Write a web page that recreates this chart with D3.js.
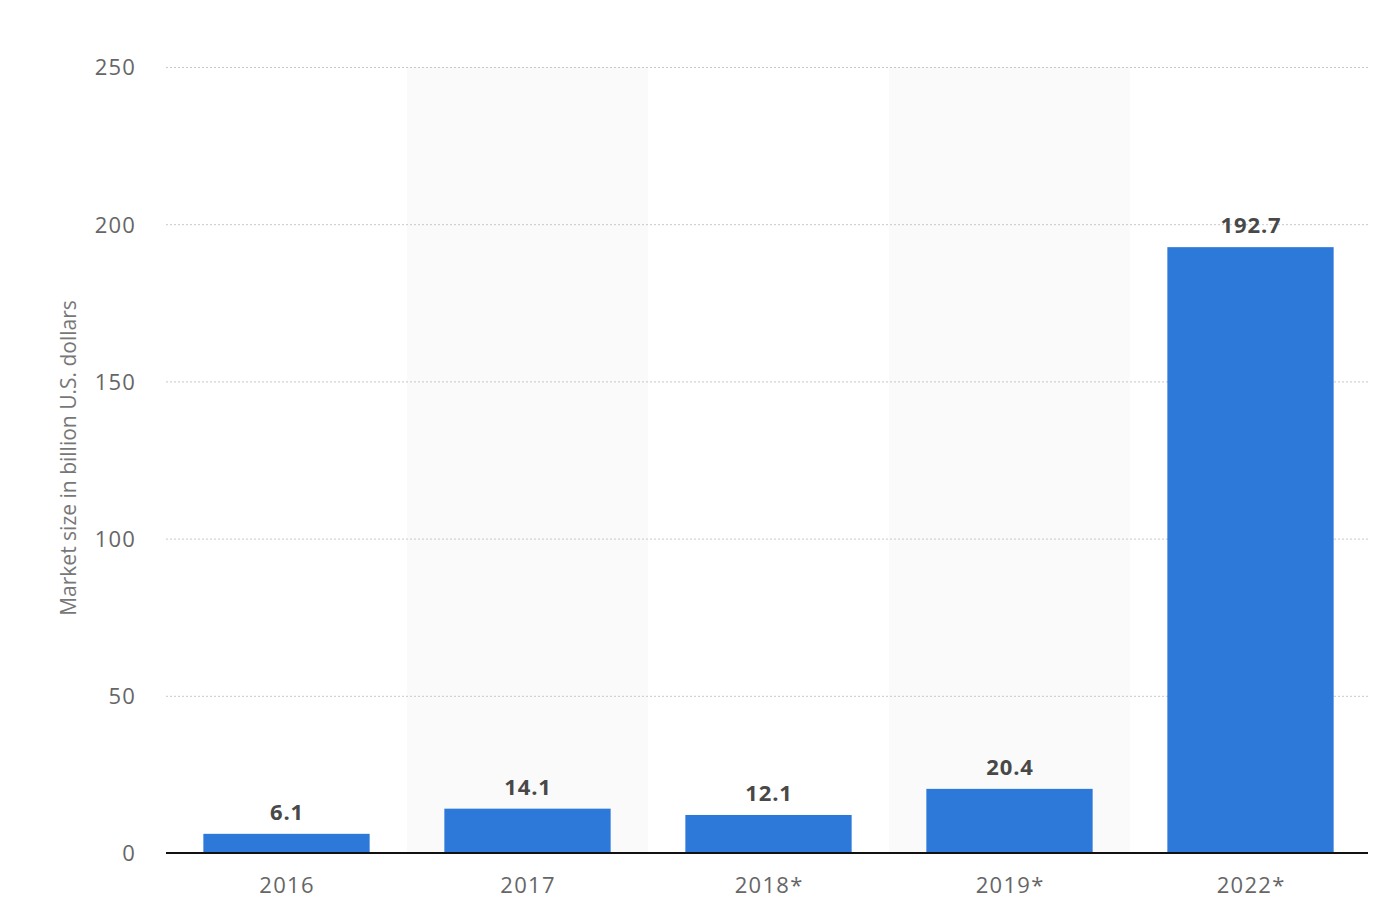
<!DOCTYPE html>
<html><head><meta charset="utf-8">
<script src="https://cdn.jsdelivr.net/npm/d3@7"></script>
<style>body{margin:0;background:#fff}svg{display:block}</style>
</head><body>
<svg id="c" width="1380" height="914"></svg>
<script>
const categories = ["2016", "2017", "2018*", "2019*", "2022*"];
const values = [6.1, 14.1, 12.1, 20.4, 192.7];
const yTicks = [0, 50, 100, 150, 200, 250];
const yTitle = "Market size in billion U.S. dollars";

const svg = d3.select("#c");
const L = 166, R = 1368, T = 67, B = 853;
const x = d3.scaleBand().domain(categories).range([L, 1371]).paddingInner(0.31).paddingOuter(0.155);
const y = d3.scaleLinear().domain([0, 250]).range([B, T]);
const step = x.step();
const off = step * 0.31 / 2;
const FONT = "'Open Sans', sans-serif";

// alternating shaded bands
svg.append("g").selectAll("rect").data(categories.filter((d, i) => i % 2 === 1)).join("rect")
  .attr("x", d => x(d) - off).attr("y", T).attr("width", step).attr("height", B - T)
  .attr("fill", "#fafafa");

// gridlines
const yAxis = d3.axisLeft(y).tickValues(yTicks).tickSize(-(R - L)).tickPadding(30);
const ga = svg.append("g").attr("transform", `translate(${L},0)`).call(yAxis);
ga.select(".domain").remove();
ga.selectAll(".tick line").attr("stroke", "#c8c8c8").attr("stroke-dasharray", "2,2").attr("stroke-width", 1);
ga.selectAll(".tick").filter(d => d === 0).select("line").remove();
ga.selectAll(".tick text").attr("fill", "#666").attr("font-family", FONT).attr("font-size", 22)
  .attr("letter-spacing", "1.2px").attr("dy", "0.36em");

// bars
svg.append("g").selectAll("rect").data(values).join("rect")
  .attr("x", (d, i) => x(categories[i])).attr("width", x.bandwidth())
  .attr("y", d => y(d)).attr("height", d => B - y(d)).attr("fill", "#2d79d9");

// value labels
svg.append("g").selectAll("text").data(values).join("text")
  .attr("x", (d, i) => x(categories[i]) + x.bandwidth() / 2 + 0.5).attr("y", d => y(d) - 14)
  .attr("text-anchor", "middle").attr("font-family", FONT).attr("font-weight", "bold")
  .attr("font-size", 22).attr("letter-spacing", "0.9px").attr("fill", "#484848").text(d => d.toFixed(1));

// x axis
const xAxis = d3.axisBottom(x).tickSize(0).tickPadding(24);
const gx = svg.append("g").attr("transform", `translate(0,${B})`).call(xAxis);
gx.select(".domain").remove();
gx.selectAll(".tick text").attr("fill", "#666").attr("font-family", FONT).attr("font-size", 22)
  .attr("letter-spacing", "1.3px").attr("dx", "0.6px").attr("dy", "0.71em");
svg.append("line").attr("x1", L).attr("x2", R).attr("y1", B).attr("y2", B)
  .attr("stroke", "#111").attr("stroke-width", 2);

// y title
svg.append("text").attr("transform", `translate(76,458) rotate(-90)`)
  .attr("text-anchor", "middle").attr("font-family", FONT).attr("font-size", 21)
  .attr("fill", "#777").text(yTitle);
</script>
</body></html>
